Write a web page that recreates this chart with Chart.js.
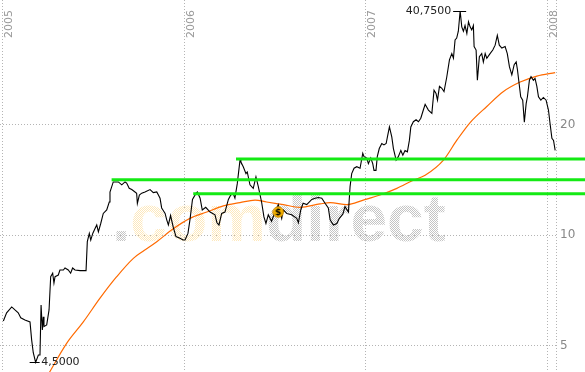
<!DOCTYPE html>
<html><head><meta charset="utf-8">
<script src="https://cdn.jsdelivr.net/npm/chart.js@4/dist/chart.umd.min.js"></script>
<style>html,body{margin:0;padding:0;background:#fff;}canvas{display:block;}</style>
</head><body>
<canvas id="c" width="585" height="372"></canvas>
<script>
// ---- data ----
const yearTicks = [2005, 2006, 2007, 2008];
const priceTicks = [5, 10, 20];

const priceT = [2005.002,2005.020,2005.048,2005.066,2005.084,2005.098,2005.121,2005.149,2005.158,2005.167,
2005.180,2005.195,2005.204,2005.210,2005.217,2005.222,2005.226,2005.241,2005.254,2005.263,
2005.274,2005.281,2005.287,2005.305,2005.314,2005.333,2005.342,2005.360,2005.373,2005.384,
2005.397,2005.425,2005.458,2005.465,2005.476,2005.484,2005.495,2005.507,2005.517,2005.526,
2005.539,2005.553,2005.572,2005.586,2005.590,2005.608,2005.636,2005.655,2005.673,2005.682,
2005.696,2005.710,2005.728,2005.737,2005.741,2005.752,2005.765,2005.783,2005.811,2005.829,
2005.848,2005.857,2005.866,2005.875,2005.882,2005.894,2005.903,2005.912,2005.924,2005.939,
2005.954,2005.976,2005.993,2006.004,2006.020,2006.031,2006.045,2006.065,2006.072,2006.087,
2006.099,2006.118,2006.142,2006.169,2006.180,2006.191,2006.206,2006.224,2006.243,2006.256,
2006.270,2006.279,2006.292,2006.307,2006.312,2006.325,2006.340,2006.347,2006.362,2006.380,
2006.395,2006.408,2006.426,2006.439,2006.450,2006.463,2006.481,2006.500,2006.518,2006.537,
2006.546,2006.565,2006.592,2006.620,2006.629,2006.642,2006.655,2006.675,2006.703,2006.721,
2006.739,2006.758,2006.776,2006.794,2006.804,2006.822,2006.841,2006.855,2006.874,2006.886,
2006.905,2006.914,2006.923,2006.936,2006.951,2006.969,2006.984,2006.991,2007.006,2007.015,
2007.028,2007.039,2007.046,2007.057,2007.064,2007.075,2007.089,2007.101,2007.113,2007.120,
2007.131,2007.144,2007.153,2007.168,2007.180,2007.194,2007.205,2007.217,2007.230,2007.241,
2007.249,2007.263,2007.278,2007.291,2007.304,2007.318,2007.328,2007.346,2007.365,2007.377,
2007.388,2007.396,2007.407,2007.420,2007.432,2007.447,2007.462,2007.475,2007.484,2007.493,
2007.502,2007.511,2007.521,2007.530,2007.539,2007.548,2007.558,2007.567,2007.576,2007.585,
2007.594,2007.598,2007.609,2007.616,2007.627,2007.640,2007.649,2007.659,2007.668,2007.686,
2007.701,2007.714,2007.726,2007.737,2007.751,2007.769,2007.781,2007.793,2007.806,2007.819,
2007.830,2007.837,2007.846,2007.855,2007.866,2007.875,2007.885,2007.892,2007.903,2007.912,
2007.925,2007.934,2007.944,2007.953,2007.966,2007.980,2007.995,2008.008,2008.017,2008.027,
2008.036,2008.045];

const priceV = [5.83,6.14,6.37,6.25,6.14,5.95,5.87,5.80,5.18,4.78,
4.50,4.71,4.71,6.45,5.51,5.99,5.63,5.69,6.25,7.70,
7.87,7.40,7.70,7.78,8.03,8.03,8.13,8.03,7.87,8.13,
8.03,8.00,8.00,9.59,10.1,9.69,10.1,10.4,10.65,10.2,
10.75,11.45,11.7,12.3,13.1,13.95,13.95,13.7,13.95,13.85,
13.4,13.3,13.1,13.0,12.2,12.85,13.0,13.1,13.3,13.05,
13.1,12.85,12.6,11.85,11.7,11.45,11.0,10.65,11.3,10.5,
9.9,9.8,9.69,9.69,10.1,11.0,12.5,13.0,13.1,12.6,
11.7,11.9,11.55,11.35,10.8,10.65,11.45,11.55,12.5,12.85,
12.95,12.6,13.8,16.0,15.8,15.35,14.7,14.85,13.7,13.4,
14.4,13.55,12.3,11.2,10.75,11.35,10.9,11.55,12.1,11.1,
11.7,11.45,11.35,11.1,10.8,11.7,12.2,12.1,12.5,12.6,
12.65,12.6,12.2,11.85,11.0,10.65,10.75,11.1,11.4,11.95,
11.55,13.55,14.7,15.2,15.35,15.2,16.7,16.35,16.2,15.65,
16.2,15.65,15.0,15.0,16.35,17.2,17.75,17.6,17.75,18.5,
19.7,18.5,17.2,16.0,16.35,17.0,16.5,17.0,16.85,18.1,
19.7,20.35,20.6,20.35,20.8,21.9,22.7,21.9,21.45,24.8,
24.3,23.3,25.4,25.1,24.6,26.9,30.0,31.2,30.3,34.0,
34.4,35.9,40.75,36.9,35.9,37.2,35.4,38.1,36.9,36.2,
37.2,32.6,31.9,26.4,30.6,31.2,29.6,31.2,30.3,31.2,
31.9,32.9,35.0,32.9,32.3,32.6,31.2,28.7,27.3,29.1,
29.6,28.2,25.9,23.8,23.3,20.3,22.8,23.8,26.4,27.0,
26.4,26.7,25.4,23.8,23.3,23.7,23.3,21.9,20.1,18.35,
18.1,17.0];

const maT = [2005.237,2005.259,2005.351,2005.443,2005.535,2005.627,2005.719,2005.778,2005.848,2005.939,
2006.031,2006.124,2006.215,2006.307,2006.390,2006.454,2006.546,2006.638,2006.748,2006.804,
2006.896,2006.987,2007.079,2007.172,2007.263,2007.328,2007.429,2007.502,2007.576,2007.668,
2007.760,2007.852,2007.944,2008.045];
const maV = [4.07,4.25,5.07,5.80,6.73,7.70,8.64,9.07,9.59,10.4,
11.1,11.55,12.0,12.25,12.45,12.3,12.1,11.9,12.15,12.25,
12.1,12.45,12.85,13.4,14.1,14.55,16.0,18.1,20.25,22.4,
24.6,26.1,27.1,27.7];

const levelValues = [16.1, 14.14, 12.95];
const levelStarts = [2006.285, 2005.599, 2006.049];
const levelEnd = 2008.21;

const dividendT = [2006.518];
const dividendV = [11.55];

const xMin = 2004.9835, xMax = 2008.0496;
const yMin = 4.235, yMax = 43.67;

// ---- helpers ----
const pts = (t, v) => t.map((x, i) => ({x: x, y: v[i]}));
const fmt = v => v.toFixed(4).replace('.', ',');

const canvas = document.getElementById('c');
const mainCtx = canvas.getContext('2d');
function dither(color) {
  const c = document.createElement('canvas'); c.width = 2; c.height = 2;
  const g = c.getContext('2d'); g.fillStyle = color;
  g.fillRect(0, 0, 1, 1); g.fillRect(1, 1, 1, 1);
  return mainCtx.createPattern(c, 'repeat');
}
const grayPat = dither('#c4c4c4');
const yellowPat = dither('#fde8bc');

const coin = document.createElement('canvas'); coin.width = 12; coin.height = 12;
(function () {
  const g = coin.getContext('2d');
  g.beginPath(); g.arc(6, 6, 5.2, 0, Math.PI * 2);
  g.fillStyle = '#f6b400'; g.fill();
  g.lineWidth = 1; g.strokeStyle = '#d08a00'; g.stroke();
  g.fillStyle = '#000'; g.font = 'bold 9px "DejaVu Sans"';
  g.textAlign = 'center'; g.textBaseline = 'middle'; g.fillText('$', 6, 6.5);
})();

const deco = {
  id: 'deco',
  beforeDatasetsDraw(chart) {
    const ctx = chart.ctx, a = chart.chartArea;
    ctx.save();
    ctx.beginPath(); ctx.rect(a.left, a.top, a.right - a.left, a.bottom - a.top); ctx.clip();
    ctx.font = 'bold 66px "Liberation Sans"';
    ctx.textBaseline = 'alphabetic';
    let x = 112; const y = 241;
    [['.', grayPat], ['com', yellowPat], ['direct', grayPat]].forEach(([t, p]) => {
      ctx.fillStyle = p; ctx.fillText(t, x, y); x += ctx.measureText(t).width;
    });
    ctx.restore();
  },
  afterDatasetsDraw(chart) {
    const ctx = chart.ctx, xs = chart.scales.x, ys = chart.scales.y;
    let iMax = 0, iMin = 0;
    priceV.forEach((v, i) => { if (v > priceV[iMax]) iMax = i; if (v < priceV[iMin]) iMin = i; });
    ctx.save();
    ctx.strokeStyle = '#000'; ctx.lineWidth = 1;
    ctx.fillStyle = '#222'; ctx.font = '11px "DejaVu Sans"'; ctx.textBaseline = 'middle';
    let px = xs.getPixelForValue(priceT[iMax]), py = Math.round(ys.getPixelForValue(priceV[iMax])) + 0.5;
    ctx.beginPath(); ctx.moveTo(px - 7, py); ctx.lineTo(px + 6, py); ctx.stroke();
    ctx.textAlign = 'right'; ctx.fillText(fmt(priceV[iMax]), px - 9, py);
    px = xs.getPixelForValue(priceT[iMin]); py = Math.round(ys.getPixelForValue(priceV[iMin])) + 0.5;
    ctx.beginPath(); ctx.moveTo(px - 6, py); ctx.lineTo(px + 4, py); ctx.stroke();
    ctx.textAlign = 'left'; ctx.fillText(fmt(priceV[iMin]), px + 5.5, py);
    ctx.restore();
  },
  afterDraw(chart) {
    const ctx = chart.ctx, xs = chart.scales.x;
    ctx.save();
    ctx.fillStyle = '#999'; ctx.font = '11px "DejaVu Sans"';
    ctx.textAlign = 'left'; ctx.textBaseline = 'alphabetic';
    yearTicks.forEach(yr => {
      const gx = xs.getPixelForValue(yr);
      ctx.save(); ctx.translate(gx + 9.5, 38); ctx.rotate(-Math.PI / 2);
      ctx.fillText(String(yr), 0, 0); ctx.restore();
    });
    ctx.restore();
  }
};

const datasets = [
  {data: pts(dividendT, dividendV), showLine: false, pointStyle: coin, pointRadius: 6, borderWidth: 0},
];
levelValues.forEach((v, i) => datasets.push({
  data: [{x: levelStarts[i], y: v}, {x: levelEnd, y: v}],
  borderColor: '#14ea14', borderWidth: 3, pointRadius: 0, clip: false, tension: 0
}));
datasets.push({data: pts(priceT, priceV), borderColor: '#000', borderWidth: 1.1, pointRadius: 0, tension: 0});
datasets.push({data: pts(maT, maV), borderColor: '#ff6a00', borderWidth: 1.2, pointRadius: 0, cubicInterpolationMode: 'monotone'});

const noPad = s => { s.paddingTop = 0; s.paddingBottom = 0; s.paddingLeft = 0; s.paddingRight = 0; };

new Chart(canvas, {
  type: 'line',
  data: {datasets: datasets},
  plugins: [deco],
  options: {
    responsive: false, animation: false, devicePixelRatio: 1,
    layout: {autoPadding: false, padding: 0},
    plugins: {legend: {display: false}, tooltip: {enabled: false}},
    scales: {
      x: {
        type: 'linear', position: 'top', min: xMin, max: xMax, bounds: 'data',
        afterBuildTicks: s => { s.ticks = yearTicks.concat([xMax]).map(v => ({value: v})); },
        afterFit: s => { noPad(s); s.height = 0; },
        grid: {color: '#b4b4b4', lineWidth: 1, drawTicks: false},
        border: {display: false, dash: [1, 2]},
        ticks: {display: false}
      },
      y: {
        type: 'logarithmic', position: 'right', min: yMin, max: yMax, bounds: 'data',
        afterBuildTicks: s => { s.ticks = priceTicks.map(v => ({value: v})); },
        afterFit: s => { noPad(s); s.width = 29; },
        grid: {color: '#b4b4b4', lineWidth: 1, drawTicks: false},
        border: {display: false, dash: [1, 2]},
        ticks: {color: '#888', font: {family: 'DejaVu Sans', size: 12}, padding: 4, callback: v => String(v)}
      }
    }
  }
});
</script>
</body></html>
